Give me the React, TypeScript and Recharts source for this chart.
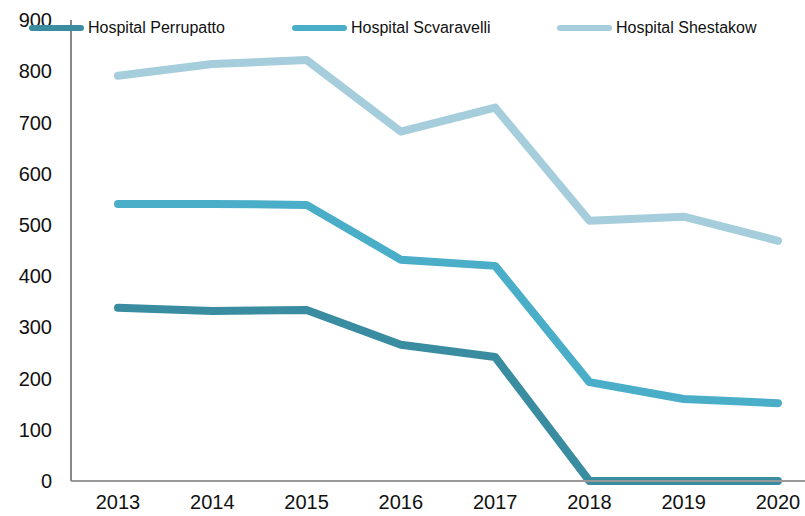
import React from 'react'
import { LineChart, Line, XAxis, YAxis } from 'recharts'

const years = ['2013', '2014', '2015', '2016', '2017', '2018', '2019', '2020']
const perrupatto = [338, 332, 334, 266, 242, 0, 0, 0]
const scvaravelli = [541, 541, 539, 432, 420, 193, 160, 152]
const shestakow = [791, 814, 822, 682, 729, 508, 516, 469]
const yTicks = [0, 100, 200, 300, 400, 500, 600, 700, 800, 900]

const series = [
  { key: 'perrupatto', name: 'Hospital Perrupatto', color: '#3a8ca1', values: perrupatto },
  { key: 'scvaravelli', name: 'Hospital Scvaravelli', color: '#4aaec9', values: scvaravelli },
  { key: 'shestakow', name: 'Hospital Shestakow', color: '#a6cddb', values: shestakow },
]

const data = years.map((year, i) => {
  const row: Record<string, string | number> = { year }
  series.forEach((s) => {
    row[s.key] = s.values[i]
  })
  return row
})

const font = 'Liberation Sans, Arial, sans-serif'
const legendPos = [29, 292, 557]

function ChartLegend() {
  return (
    <div style={{ position: 'absolute', left: 0, top: 18, width: 805, height: 20, pointerEvents: 'none' }}>
      {series.map((s, i) => (
        <div
          key={s.key}
          style={{ position: 'absolute', left: legendPos[i], top: 0, height: 20, display: 'flex', alignItems: 'center' }}
        >
          <div style={{ width: 55, height: 6, borderRadius: 3, background: s.color, marginRight: 4 }} />
          <span style={{ fontSize: 16, color: '#111', fontFamily: font }}>{s.name}</span>
        </div>
      ))}
    </div>
  )
}

export default function App() {
  return (
    <div style={{ position: 'absolute', left: 0, top: 0, width: 805, height: 516, background: 'white' }}>
      <LineChart width={805} height={516} data={data} margin={{ top: 20, right: 0, left: 0, bottom: 0 }}>
        <XAxis
          dataKey="year"
          padding={{ left: 47, right: 27 }}
          axisLine={{ stroke: '#999', strokeWidth: 2 }}
          tickLine={false}
          tickSize={0}
          tickMargin={14}
          height={35}
          tick={{ fontSize: 20, fill: '#111', fontFamily: font }}
        />
        <YAxis
          domain={[0, 900]}
          ticks={yTicks}
          width={71}
          axisLine={{ stroke: '#888', strokeWidth: 2 }}
          tickLine={false}
          tickSize={0}
          tickMargin={19}
          tick={{ fontSize: 20, fill: '#111', fontFamily: font }}
        />
        {series.map((s) => (
          <Line
            key={s.key}
            type="linear"
            dataKey={s.key}
            name={s.name}
            stroke={s.color}
            strokeWidth={8}
            strokeLinecap="round"
            strokeLinejoin="round"
            dot={false}
            activeDot={false}
            isAnimationActive={false}
          />
        ))}
      </LineChart>
      <ChartLegend />
    </div>
  )
}
